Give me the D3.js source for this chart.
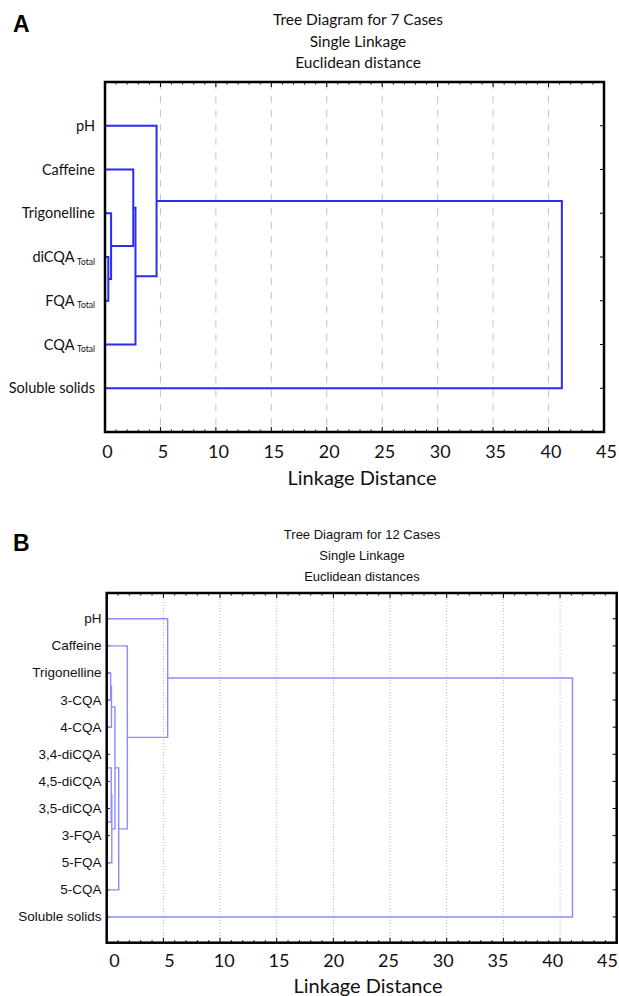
<!DOCTYPE html>
<html lang="en">
<head>
<meta charset="UTF-8">
<title>Tree diagrams</title>
<script src="https://cdn.jsdelivr.net/npm/d3@7"></script>
<style>
  body { margin: 0; background: #fff; }
  svg { display: block; }
</style>
</head>
<body>
<script>
    // ---- data ----
    // panel A, 7 cases ("name|sub" = name with subscript)
    var casesA = ["pH", "Caffeine", "Trigonelline", "diCQA|Total", "FQA|Total", "CQA|Total", "Soluble solids"];
    // merges: [cluster, cluster, linkage distance]; index >= n points to an earlier merge
    var linkA = [
        [3, 4, 0.3],
        [2, 7, 0.55],
        [1, 8, 2.55],
        [9, 5, 2.75],
        [0, 10, 4.65],
        [11, 6, 41.2]
    ];

    // panel B, 12 cases
    var casesB = ["pH", "Caffeine", "Trigonelline", "3-CQA", "4-CQA", "3,4-diCQA", "4,5-diCQA",
        "3,5-diCQA", "3-FQA", "5-FQA", "5-CQA", "Soluble solids"];
    var linkB = [
        [5, 6, 0.03],
        [7, 8, 0.05],
        [2, 3, 0.35],
        [12, 13, 0.4],
        [14, 4, 0.42],
        [15, 9, 0.45],
        [16, 17, 0.73],
        [18, 10, 1.06],
        [1, 19, 1.82],
        [0, 20, 5.38],
        [21, 11, 41.1]
    ];

    var xTicks = [0, 5, 10, 15, 20, 25, 30, 35, 40, 45];
    var titlesA = ["Tree Diagram for 7 Cases", "Single Linkage", "Euclidean distance"];
    var titlesB = ["Tree Diagram for 12 Cases", "Single Linkage", "Euclidean distances"];

    var svg = d3.select("body").append("svg")
        .attr("width", 619)
        .attr("height", 996);

    function panel(o) {
        var g = svg.append("g");

        var x = d3.scaleLinear().domain([0, 45]).range([o.left, o.right]);
        var xLab = d3.scaleLinear().domain([0, 45]).range(o.labelRange);
        var y = d3.scalePoint().domain(d3.range(o.cases.length))
            .range([o.top, o.bottom]).padding(o.pad);

        // panel letter
        g.append("text")
            .attr("x", 13).attr("y", o.letterY)
            .style("font-family", "Liberation Sans, Arial, sans-serif")
            .style("font-weight", "bold").style("font-size", "23px")
            .text(o.letter);

        // titles
        g.selectAll(".title").data(o.titles).enter().append("text")
            .attr("x", o.titleX)
            .attr("y", function(d, i) { return o.titleY + i * o.titleStep; })
            .attr("text-anchor", "middle")
            .style("font-family", o.titleFont)
            .style("font-size", o.titleSize)
            .style("fill", "#111")
            .text(function(d) { return d; });

        // grid
        g.selectAll(".grid").data(xTicks.slice(1, -1)).enter().append("line")
            .attr("x1", x).attr("x2", x)
            .attr("y1", o.top).attr("y2", o.bottom)
            .style("stroke", o.gridColor)
            .style("stroke-width", 1)
            .style("stroke-dasharray", o.gridDash);

        // inner ticks: top and bottom, major + minor
        var minor = d3.range(0, 46, 1);
        [o.top, o.bottom].forEach(function(yy) {
            var dir = yy === o.top ? 1 : -1;
            g.selectAll(null).data(minor).enter().append("line")
                .attr("x1", x).attr("x2", x)
                .attr("y1", yy)
                .attr("y2", function(d) { return yy + dir * (d % 5 === 0 ? 5 : 2.5); })
                .style("stroke", "#000").style("stroke-width", 1);
        });
        // row ticks left and right
        g.selectAll(null).data(d3.range(o.cases.length)).enter().append("line")
            .attr("x1", o.right).attr("x2", o.right - 4)
            .attr("y1", y).attr("y2", y)
            .style("stroke", "#000").style("stroke-width", 1);
        g.selectAll(null).data(d3.range(o.cases.length)).enter().append("line")
            .attr("x1", o.left).attr("x2", o.left + 3)
            .attr("y1", y).attr("y2", y)
            .style("stroke", "#000").style("stroke-width", 1);

        // dendrogram
        var n = o.cases.length;
        var node = d3.range(n).map(function(i) { return {y: y(i), h: 0}; });
        var paths = o.links.map(function(l) {
            var a = node[l[0]], b = node[l[1]];
            node.push({y: (a.y + b.y) / 2, h: l[2]});
            return "M" + x(a.h) + "," + a.y + "H" + x(l[2]) + "V" + b.y + "H" + x(b.h);
        });
        g.selectAll(".branch").data(paths).enter().append("path")
            .attr("d", function(d) { return d; })
            .style("fill", "none")
            .style("stroke", o.lineColor)
            .style("stroke-width", o.lineWidth);

        // frame
        g.append("rect")
            .attr("x", o.left).attr("y", o.top)
            .attr("width", o.right - o.left).attr("height", o.bottom - o.top)
            .style("fill", "none").style("stroke", "#000").style("stroke-width", o.frameWidth);

        // case labels
        var lab = g.selectAll(".case").data(o.cases).enter().append("text")
            .attr("x", o.labelX)
            .attr("y", function(d, i) { return y(i) + o.labelDy; })
            .attr("text-anchor", "end")
            .style("font-family", o.caseFont)
            .style("font-size", o.caseSize)
            .style("fill", "#111");
        lab.append("tspan").text(function(d) { return d.split("|")[0]; });
        lab.filter(function(d) { return d.indexOf("|") > 0; })
            .append("tspan")
            .attr("dx", 2.5).attr("dy", 2.5)
            .style("font-size", "8.5px")
            .text(function(d) { return d.split("|")[1]; });

        // x tick labels
        g.selectAll(".tl").data(xTicks).enter().append("text")
            .attr("x", xLab)
            .attr("y", o.tickY)
            .attr("text-anchor", "middle")
            .style("font-family", "Lato, sans-serif")
            .style("font-size", "18px")
            .style("fill", "#111")
            .text(function(d) { return d; });

        g.append("text")
            .attr("x", o.axisTitleX).attr("y", o.axisTitleY)
            .attr("text-anchor", "middle")
            .style("font-family", "Lato, sans-serif")
            .style("font-size", "20px")
            .style("fill", "#111")
            .text("Linkage Distance");
    }

    panel({
        letter: "A", letterY: 32,
        titles: titlesA, titleX: 358, titleY: 25, titleStep: 21.7,
        titleFont: "Lato, sans-serif", titleSize: "15.5px",
        cases: casesA, links: linkA,
        left: 105, right: 604, top: 82, bottom: 432, pad: 1,
        labelRange: [107.5, 606.5], tickY: 458,
        axisTitleX: 362, axisTitleY: 485,
        gridColor: "#c4c4c4", gridDash: "7,7",
        lineColor: "#2b2bf2", lineWidth: 2, frameWidth: 2.5,
        labelX: 95, labelDy: 5, caseFont: "Lato, sans-serif", caseSize: "14.5px"
    });

    panel({
        letter: "B", letterY: 551,
        titles: titlesB, titleX: 362, titleY: 539, titleStep: 21,
        titleFont: "Liberation Sans, Arial, sans-serif", titleSize: "13px",
        cases: casesB, links: linkB,
        left: 106.7, right: 616.7, top: 593, bottom: 942.7, pad: 0.95,
        labelRange: [114.6, 607.5], tickY: 967,
        axisTitleX: 368, axisTitleY: 993,
        gridColor: "#b8b8b8", gridDash: "1,2",
        lineColor: "#8c8cff", lineWidth: 1.4, frameWidth: 2.5,
        labelX: 101.5, labelDy: 4.5, caseFont: "Liberation Sans, Arial, sans-serif", caseSize: "13.5px"
    });
</script>
</body>
</html>
